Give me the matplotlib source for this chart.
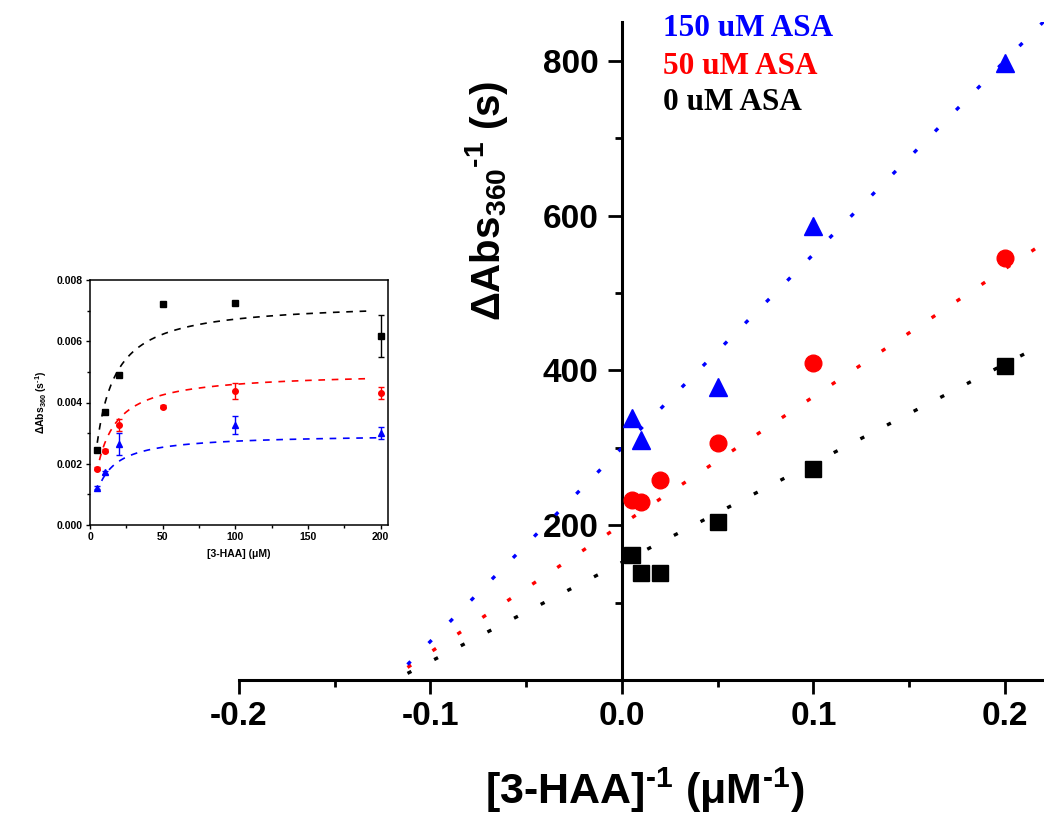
import numpy as np
import matplotlib
matplotlib.use("Agg")
import matplotlib.pyplot as plt
from matplotlib.ticker import MultipleLocator, FormatStrFormatter

plt.rcParams['font.family'] = ['Liberation Sans', 'DejaVu Sans']
plt.rcParams['font.weight'] = 'bold'
plt.rcParams['mathtext.fontset'] = 'custom'
plt.rcParams['mathtext.rm'] = 'Liberation Sans:bold'
plt.rcParams['mathtext.it'] = 'Liberation Sans:bold'
plt.rcParams['mathtext.bf'] = 'Liberation Sans:bold'
plt.rcParams['axes.unicode_minus'] = False

# ---- dati: grafico doppio reciproco ----
inv_haa = [0.005, 0.01, 0.02, 0.05, 0.1, 0.2]
inv_haa_150 = [0.005, 0.01, 0.05, 0.1, 0.2]
inv_abs_0 = [161, 138, 138, 204, 272, 406]
inv_abs_50 = [232, 230, 258, 306, 410, 545]
inv_abs_150 = [339, 310, 378, 587, 797]

# rette di fit (pendenza, intercetta)
fit_x = [-0.112, 0.23]
fit_slope = [1281, 1650, 2500]
fit_icept = [152, 201, 300]

# ---- dati: inserto (velocita' vs concentrazione) ----
haa = [5, 10, 20, 50, 100, 200]
haa_150 = [5, 10, 20, 100, 200]
rate_0 = [0.00245, 0.00368, 0.0049, 0.00722, 0.00724, 0.00617]
err_0 = [0.00005, 0.00005, 0.00005, 0.00005, 0.00005, 0.00068]
rate_50 = [0.00183, 0.00243, 0.00327, 0.00386, 0.00438, 0.0043]
err_50 = [0.00005, 0.00005, 0.0002, 0.00005, 0.00025, 0.0002]
rate_150 = [0.00122, 0.00172, 0.00265, 0.00327, 0.00301]
err_150 = [0.00005, 0.00005, 0.00037, 0.0003, 0.0002]

# parametri Michaelis-Menten delle curve di fit (Vmax, Km, x iniziale, x finale)
mm_vmax = [0.0073, 0.0050, 0.00297]
mm_km = [8.6, 8.85, 8.5]
mm_start = [5, 6.5, 8]
mm_end = [193, 191, 200]

colors = ['black', 'red', 'blue']
labels = ['0 uM ASA', '50 uM ASA', '150 uM ASA']

fig = plt.figure(figsize=(10.44, 8.14), dpi=100)
ax = fig.add_axes([239 / 1044, 1 - 680 / 814, 805 / 1044, 658 / 814])

xs = np.array(fit_x)
for m, q, c in zip(fit_slope, fit_icept, colors):
    ax.plot(xs, m * xs + q, color=c, lw=2.4, linestyle=(0, (1.3, 7.7)),
            dash_capstyle='butt')

ax.plot(inv_haa, inv_abs_0, 's', color='black', ms=11.5, clip_on=False, zorder=4)
ax.plot(inv_haa, inv_abs_50, 'o', color='red', ms=12, clip_on=False, zorder=4)
ax.plot(inv_haa_150, inv_abs_150, '^', color='blue', ms=13, clip_on=False,
        zorder=4)

ax.set_xlim(-0.2, 0.2204)
ax.set_ylim(0, 850)
ax.spines['left'].set_position(('data', 0))
ax.spines['top'].set_visible(False)
ax.spines['right'].set_visible(False)
for s in ['left', 'bottom']:
    ax.spines[s].set_linewidth(2.2)
ax.set_xticks([-0.2, -0.1, 0.0, 0.1, 0.2])
ax.xaxis.set_minor_locator(MultipleLocator(0.05))
ax.set_yticks([200, 400, 600, 800])
ax.yaxis.set_minor_locator(MultipleLocator(100))
ax.xaxis.set_major_formatter(FormatStrFormatter('%.1f'))
ax.tick_params(which='major', length=10, width=2, labelsize=24)
ax.tick_params(axis='x', which='major', pad=5)
ax.tick_params(axis='y', which='major', pad=7)
ax.tick_params(which='minor', length=5, width=2)

fig.text(645 / 1044, 1 - 790 / 814,
         '[3-HAA]$^{\\text{-}1}$ (\u03bcM$^{\\text{-}1}$)',
         fontsize=31, fontweight='bold', ha='center', va='center')
fig.text(486 / 1044, 1 - 201 / 814,
         '\u0394Abs$_{360}$$^{\\text{-}1}$ (s)',
         fontsize=29, fontweight='bold', ha='center', va='center',
         rotation=90)

for lab, c, yp in zip(labels, colors, [103, 66, 28]):
    fig.text(663 / 1044, 1 - yp / 814, lab, color=c, fontsize=22.5,
             family='Liberation Serif', fontweight='bold', va='center')

# ---- inserto ----
axi = fig.add_axes([90 / 1044, 1 - 525 / 814, 298 / 1044, 245 / 814])
for vm, km, x0, x1, c in zip(mm_vmax, mm_km, mm_start, mm_end, colors):
    xc = np.linspace(x0, x1, 200)
    axi.plot(xc, vm * xc / (km + xc), color=c, lw=1.2, dashes=(4, 4))

axi.errorbar(haa, rate_0, yerr=err_0, fmt='s', color='black', ms=4.5,
             capsize=2.5, elinewidth=1, capthick=1)
axi.errorbar(haa, rate_50, yerr=err_50, fmt='o', color='red', ms=4,
             capsize=2.5, elinewidth=1, capthick=1)
axi.errorbar(haa_150, rate_150, yerr=err_150, fmt='^', color='blue', ms=4.5,
             capsize=2.5, elinewidth=1, capthick=1)

axi.set_xlim(0, 205)
axi.set_ylim(0, 0.008)
axi.set_xticks([0, 50, 100, 150, 200])
axi.xaxis.set_minor_locator(MultipleLocator(25))
axi.set_yticks([0, 0.002, 0.004, 0.006, 0.008])
axi.yaxis.set_minor_locator(MultipleLocator(0.001))
axi.yaxis.set_major_formatter(FormatStrFormatter('%.3f'))
axi.tick_params(which='major', length=3, width=1, labelsize=7.5, pad=2)
axi.tick_params(which='minor', length=2, width=1)
for s in axi.spines.values():
    s.set_linewidth(1.1)
axi.set_xlabel('[3-HAA] (\u03bcM)', fontsize=7.5, fontweight='bold', labelpad=5)
axi.set_ylabel('\u0394Abs$_{360}$ (s$^{\\text{-}1}$)', fontsize=7.5,
               fontweight='bold', labelpad=6)

fig.savefig('out.png', dpi=100)
